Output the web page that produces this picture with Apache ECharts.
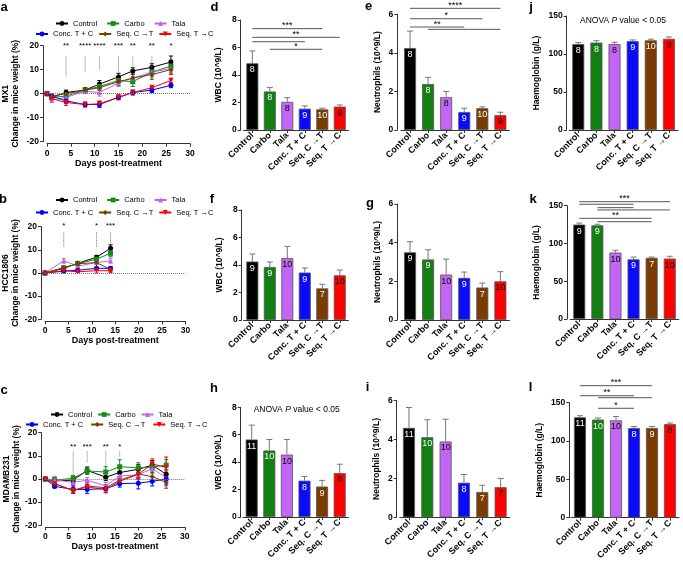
<!DOCTYPE html>
<html><head><meta charset="utf-8">
<script src="https://cdn.jsdelivr.net/npm/echarts@6/dist/echarts.min.js"></script>
<style>html,body{margin:0;padding:0;background:#fff}#c{width:683px;height:562px}</style>
</head><body><div id="c"></div><script>
const FONT = '"Liberation Sans", Arial, sans-serif';

// ---------------- data ----------------
const treatments = ['Control','Carbo','Tala','Conc. T + C','Seq. C \u2192T','Seq. T \u2192C'];

// Panel a: MX1 body weight change (%)
const mx1Days = [0,1,4,8,11,15,18,22,26];
const mx1Control = [0,-1.5,0.5,1.5,4,7,9.5,11,13.2];
const mx1Carbo   = [0,-1.5,-1,1.5,3,5.5,5,9,11.5];
const mx1Tala    = [0,-2.8,-1.5,1,0.5,4.5,6.5,9,10.5];
const mx1Conc    = [0,-1,-3,-4.5,-4.5,-1.5,0.5,1.5,3.5];
const mx1SeqCT   = [0,-1,0,1.5,2.5,5,6.5,8,10];
const mx1SeqTC   = [0,-2,-3.7,-4.5,-4.2,-1.5,0.5,2.5,5.5];
const mx1ControlErr = [0,0.8,1,1,1.5,1.5,1.3,1.5,2.5];
const mx1CarboErr   = [0,0.8,1,1,1.2,1.2,2,2,2.5];
const mx1TalaErr    = [0,0.8,1,1,1.5,1.5,1.5,1.5,2];
const mx1ConcErr    = [0,0.8,1,1,1.2,1,1,1,1];
const mx1SeqCTErr   = [0,0.8,1,1,1.2,1.5,1.5,2,2];
const mx1SeqTCErr   = [0,0.8,1.2,1,1.2,1,1,1,1];
const mx1SigDays  = [4,8,11,15,18,22,26];
const mx1SigStars = ['**','****','****','***','**','**','*'];
const mx1SigLineEnd = [7,9.2,9.7,9.2,9.7,10.8,14];

// Panel b: HCC1806
const hccDays = [0,4,7,11,14];
const hccControl = [0,2,4.2,6.8,10.7];
const hccCarbo   = [0,2.3,4,6,8.5];
const hccTala    = [0,5.3,3,4.5,5.3];
const hccConc    = [0,0.8,1.2,2,2];
const hccSeqCT   = [0,2.3,4,4.5,1.5];
const hccSeqTC   = [0,1,0.5,1,1];
const hccControlErr = [0,0.6,0.8,0.8,1.5];
const hccCarboErr   = [0,0.5,0.6,0.8,1.5];
const hccTalaErr    = [0,1,0.5,0.8,1];
const hccConcErr    = [0,0.4,0.5,0.5,0.8];
const hccSeqCTErr   = [0,0.5,0.8,2.5,0.8];
const hccSeqTCErr   = [0,0.5,0.4,1,0.8];
const hccSigDays  = [4,11,14];
const hccSigStars = ['*','*','***'];
const hccSigLineEnd = [11.2,11.2,12.5];

// Panel c: MDAMB231
const mdaDays = [0,2,6,9,13,16,20,23,26];
const mdaControl = [0,-0.8,-0.5,3.7,0.8,2.8,4.2,6,2];
const mdaCarbo   = [0,-0.5,0.3,3.5,3,5.3,4.8,5.2,6];
const mdaTala    = [0,-0.3,-1.5,-0.5,-3,1.3,1.8,4.5,0.5];
const mdaConc    = [0,-3.2,-4.5,-4.5,-4.2,-2,-1.8,-1,0];
const mdaSeqCT   = [0,-2,-5,-3,-3.8,-0.5,2.2,1,-1.5];
const mdaSeqTC   = [0,-2,-5,-3.5,-4.5,-1,2,6.5,5];
const mdaControlErr = [0,1.5,1.5,1.5,1.5,1.8,2,2,2];
const mdaCarboErr   = [0,1.2,1.2,1.5,2.3,3,2.2,2.5,2.5];
const mdaTalaErr    = [0,1.5,1.5,1.2,1.5,2,2,2.2,3.5];
const mdaConcErr    = [0,0.6,1.5,1.8,1.5,1.5,2.5,2,2.5];
const mdaSeqCTErr   = [0,1,1.2,1.5,1.2,1.5,2,2,2.5];
const mdaSeqTCErr   = [0,0.8,1.2,1.2,1.5,1.5,2,2.2,4.5];
const mdaSigDays  = [6,9,13,16];
const mdaSigStars = ['**','***','**','*'];
const mdaSigLineEnd = [1,7.2,1.5,9.4];

// Bar panels (mean, SEM, n)
const wbcMX1 = [4.85,2.8,2.05,1.55,1.5,1.7];
const wbcMX1Err = [0.9,0.3,0.3,0.2,0.08,0.12];
const wbcMX1N = [8,8,8,9,10,9];
const wbcMX1Sig = [[0,4,7.37,'***'],[0,5,6.74,'**'],[0,3,6.42,''],[1,4,5.87,'*']];

const neuMX1 = [4.25,2.38,1.7,0.93,1.13,0.77];
const neuMX1Err = [0.88,0.35,0.3,0.2,0.07,0.15];
const neuMX1N = [8,8,8,9,10,9];
const neuMX1Sig = [[0,5,6.31,'****'],[0,4,5.77,'*'],[0,3,5.34,'**'],[1,5,5.22,'']];

const hbMX1 = [113,115,113,117,118,120];
const hbMX1Err = [2,2.5,2.5,1.5,1.5,2.5];
const hbMX1N = [8,8,8,9,10,9];

const wbcHCC = [4.25,3.85,4.5,3.45,2.3,3.25];
const wbcHCCErr = [0.55,0.37,0.85,0.33,0.3,0.38];
const wbcHCCN = [9,9,10,9,7,10];

const neuHCC = [3.5,3.13,2.35,2.18,1.68,2.0];
const neuHCCErr = [0.55,0.5,0.8,0.3,0.23,0.5];
const neuHCCN = [9,9,10,9,7,10];

const hbHCC = [125,124,88,79,81,80];
const hbHCCErr = [2,1.5,3,3,1,3];
const hbHCCN = [9,9,10,9,7,10];
const hbHCCSig = [[0,5,155.3,'***'],[0,3,151.9,''],[1,3,147.4,''],[1,5,144.4,''],[0,4,133.3,'**'],[1,4,128.8,'']];

const wbcMDA = [5.65,4.85,4.55,2.65,2.22,3.2];
const wbcMDAErr = [1.05,0.8,1.1,0.3,0.45,0.65];
const wbcMDAN = [11,10,10,8,9,8];

const neuMDA = [4.6,4.12,3.9,1.78,1.3,1.55];
const neuMDAErr = [1.05,0.9,1.15,0.42,0.35,0.45];
const neuMDAN = [11,10,10,8,7,7];

const hbMDA = [131,128,127,117,117,122];
const hbMDAErr = [2,2,5,2,2,1.5];
const hbMDAN = [11,10,10,8,9,8];
const hbMDASig = [[0,4,172.2,'***'],[0,3,159.1,'**'],[1,4,156.5,''],[1,3,142.7,'*']];

// ---------------- styles ----------------
const lineColors = ['#000000','#178a17','#c062f2','#0000ff','#7b3b00','#ff0000'];
const barColors  = ['#000000','#137f13','#c466f5','#0a0aff','#7a3c00','#ff0000'];
const nColors    = ['#ffffff','#ffffff','#000000','#ffffff','#ffffff','#000000'];
const symbols    = ['circle','rect','triangle','circle','diamond','triangle'];
const symbolRot  = [0,0,0,0,0,180];
const AX = {color:'#333', width:1};

const grids = [], xAxes = [], yAxes = [], series = [], legends = [], graphics = [];

function addGrid(left, top, width, height) {
  grids.push({left, top, width, height, containLabel:false, outerBoundsMode:'none'});
  return grids.length - 1;
}
function yVal(gi, min, max, interval, name, nameGap, offset) {
  yAxes.push({type:'value', gridIndex:gi, min, max, interval, offset,
    name, nameLocation:'middle', nameGap, nameRotate:90, nameMoveOverlap:false,
    nameTextStyle:{fontFamily:FONT, fontWeight:'bold', fontSize:8.5, color:'#000', lineHeight:10},
    axisLine:{show:true, onZero:false, lineStyle:AX},
    axisTick:{show:true, length:3, lineStyle:AX},
    axisLabel:{fontFamily:FONT, fontWeight:'bold', fontSize:8.5, color:'#000', margin:4},
    splitLine:{show:false}});
}
function xDays(gi) {
  xAxes.push({type:'value', gridIndex:gi, min:0, max:30, interval:5, offset:2,
    name:'Days post-treatment', nameLocation:'middle', nameGap:15, nameMoveOverlap:false,
    nameTextStyle:{fontFamily:FONT, fontWeight:'bold', fontSize:9, color:'#000'},
    axisLine:{show:true, onZero:false, lineStyle:AX},
    axisTick:{show:true, length:3, lineStyle:AX},
    axisLabel:{fontFamily:FONT, fontWeight:'bold', fontSize:8.5, color:'#000', margin:5},
    splitLine:{show:false}});
}
function xCat(gi) {
  xAxes.push({type:'category', gridIndex:gi, data:treatments,
    axisLine:{show:true, onZero:false, lineStyle:AX},
    axisTick:{show:true, length:3, alignWithLabel:true, lineStyle:AX},
    axisLabel:{fontFamily:FONT, fontWeight:'bold', fontSize:9, color:'#000', rotate:45, interval:0, margin:4},
    splitLine:{show:false}});
}

function errRender(color, cap) {
  return function(params, api) {
    const x = api.value(0), m = api.value(1), e = api.value(2);
    if (!e) return null;
    const lo = api.coord([x, m - e]), hi = api.coord([x, m + e]);
    return {type:'group', children:[
      {type:'line', shape:{x1:lo[0], y1:lo[1], x2:hi[0], y2:hi[1]}, style:{stroke:color, lineWidth:1}},
      {type:'line', shape:{x1:hi[0]-cap, y1:hi[1], x2:hi[0]+cap, y2:hi[1]}, style:{stroke:color, lineWidth:1}},
      {type:'line', shape:{x1:lo[0]-cap, y1:lo[1], x2:lo[0]+cap, y2:lo[1]}, style:{stroke:color, lineWidth:1}}
    ]};
  };
}

function linePanel(gi, tag, days, means, errs, sigDays, sigStars, sigEnd, starY, lineTop) {
  means.forEach((m, k) => {
    const s = {type:'line', name:treatments[k], xAxisIndex:gi, yAxisIndex:gi,
      data: days.map((d, i) => [d, m[i]]), symbol:symbols[k], symbolRotate:symbolRot[k], symbolSize:5,
      showSymbol:true, itemStyle:{color:lineColors[k]}, lineStyle:{color:lineColors[k], width:1}, z:4};
    if (k === 0) s.markLine = {silent:true, symbol:'none', label:{show:false}, animation:false,
      lineStyle:{type:'dotted', color:'#777', width:1}, data:[{yAxis:0}]};
    series.push(s);
    series.push({type:'custom', name:tag + ' err ' + k, xAxisIndex:gi, yAxisIndex:gi, silent:true, z:3,
      data: days.map((d, i) => [d, m[i], errs[k][i]]), encode:{x:0, y:1},
      renderItem: errRender(lineColors[k], 2)});
  });
  series.push({type:'custom', name:tag + ' sig', xAxisIndex:gi, yAxisIndex:gi, silent:true, z:5,
    data: sigDays.map((d, i) => [d, sigEnd[i]]), encode:{x:0, y:1},
    renderItem: function(params, api) {
      const d = api.value(0), end = api.value(1);
      const t = api.coord([d, starY]), a = api.coord([d, lineTop]), b = api.coord([d, end]);
      return {type:'group', children:[
        {type:'line', shape:{x1:a[0], y1:a[1], x2:b[0], y2:b[1]}, style:{stroke:'#777', lineWidth:1, lineDash:[1,1]}},
        {type:'text', x:t[0], y:t[1], style:{text:sigStars[params.dataIndex], font:'8px ' + FONT, fill:'#000', align:'center', verticalAlign:'middle'}}
      ]};
    }});
}

function barPanel(gi, tag, means, errs, ns, sig) {
  series.push({type:'bar', name:tag, xAxisIndex:gi, yAxisIndex:gi, barWidth:12, z:2,
    data: means.map((v, i) => ({value:v, itemStyle:{color:barColors[i], borderColor:'#555', borderWidth:0.8},
      label:{show:true, position:'insideTop', distance:2, color:nColors[i], fontFamily:FONT, fontSize:9,
        formatter:String(ns[i])}}))});
  series.push({type:'custom', name:tag + ' err', xAxisIndex:gi, yAxisIndex:gi, silent:true, z:3,
    data: means.map((v, i) => [i, v, errs[i]]), encode:{x:0, y:1},
    renderItem: function(params, api) {
      const x = api.value(0), m = api.value(1), e = api.value(2);
      const lo = api.coord([x, m]), hi = api.coord([x, m + e]);
      return {type:'group', children:[
        {type:'line', shape:{x1:lo[0], y1:lo[1], x2:hi[0], y2:hi[1]}, style:{stroke:'#777', lineWidth:1}},
        {type:'line', shape:{x1:hi[0]-3, y1:hi[1], x2:hi[0]+3, y2:hi[1]}, style:{stroke:'#777', lineWidth:1}}
      ]};
    }});
  if (sig) series.push({type:'custom', name:tag + ' sig', xAxisIndex:gi, yAxisIndex:gi, silent:true, z:5,
    data: sig.map(s => [s[0], s[1], s[2]]), encode:{x:0, y:2},
    renderItem: function(params, api) {
      const a = api.coord([api.value(0), api.value(2)]), b = api.coord([api.value(1), api.value(2)]);
      const lab = sig[params.dataIndex][3];
      const ch = [{type:'line', shape:{x1:a[0], y1:a[1], x2:b[0], y2:b[1]}, style:{stroke:'#555', lineWidth:1}}];
      if (lab) ch.push({type:'text', x:(a[0]+b[0])/2, y:a[1] + 1.5, style:{text:lab, font:'9px ' + FONT, fill:'#000', align:'center', verticalAlign:'bottom'}});
      return {type:'group', children:ch};
    }});
}

// ---------------- layout ----------------
let g;
g = addGrid(47, 45.7, 143, 96); xDays(g); yVal(g, -20, 20, 10, 'MX1\nChange in mice weight (%)', 22, 4);
linePanel(g, 'a', mx1Days, [mx1Control,mx1Carbo,mx1Tala,mx1Conc,mx1SeqCT,mx1SeqTC],
  [mx1ControlErr,mx1CarboErr,mx1TalaErr,mx1ConcErr,mx1SeqCTErr,mx1SeqTCErr], mx1SigDays, mx1SigStars, mx1SigLineEnd, 20, 15.5);
g = addGrid(45, 226.7, 140.5, 92.6); xDays(g); yVal(g, -20, 20, 10, 'HCC1806\nChange in mice weight (%)', 20, 4);
linePanel(g, 'b', hccDays, [hccControl,hccCarbo,hccTala,hccConc,hccSeqCT,hccSeqTC],
  [hccControlErr,hccCarboErr,hccTalaErr,hccConcErr,hccSeqCTErr,hccSeqTCErr], hccSigDays, hccSigStars, hccSigLineEnd, 20.2, 17.6);
g = addGrid(45.3, 432.7, 139.5, 92.6); xDays(g); yVal(g, -20, 20, 10, 'MDAMB231\nChange in mice weight (%)', 20, 4);
linePanel(g, 'c', mdaDays, [mdaControl,mdaCarbo,mdaTala,mdaConc,mdaSeqCT,mdaSeqTC],
  [mdaControlErr,mdaCarboErr,mdaTalaErr,mdaConcErr,mdaSeqCTErr,mdaSeqTCErr], mdaSigDays, mdaSigStars, mdaSigLineEnd, 13.8, 11.9);

const wbcName = 'WBC (10^9/L)', neuName = 'Neutrophils (10^9/L)', hbName = 'Haemoglobin (g/L)';
g = addGrid(243.6, 20, 104.9, 110); xCat(g); yVal(g, 0, 8, 2, wbcName, 17, 2.9); barPanel(g, 'd', wbcMX1, wbcMX1Err, wbcMX1N, wbcMX1Sig);
g = addGrid(401, 14.3, 108.4, 115.7); xCat(g); yVal(g, 0, 6, 2, neuName, 15, 3.7); barPanel(g, 'e', neuMX1, neuMX1Err, neuMX1N, neuMX1Sig);
g = addGrid(569.2, 16, 108.8, 114); xCat(g); yVal(g, 0, 150, 50, hbName, 25, 2.5); barPanel(g, 'j', hbMX1, hbMX1Err, hbMX1N, null);
g = addGrid(243.6, 210, 104.9, 110); xCat(g); yVal(g, 0, 8, 2, wbcName, 17, 1.9); barPanel(g, 'f', wbcHCC, wbcHCCErr, wbcHCCN, null);
g = addGrid(401, 204, 108.4, 116); xCat(g); yVal(g, 0, 6, 2, neuName, 15, 3.7); barPanel(g, 'g', neuHCC, neuHCCErr, neuHCCN, null);
g = addGrid(570.2, 205.7, 108.6, 113.3); xCat(g); yVal(g, 0, 150, 50, hbName, 25, 3.2); barPanel(g, 'k', hbHCC, hbHCCErr, hbHCCN, hbHCCSig);
g = addGrid(242.9, 407.3, 105.6, 109.7); xCat(g); yVal(g, 0, 8, 2, wbcName, 17, 2.2); barPanel(g, 'h', wbcMDA, wbcMDAErr, wbcMDAN, null);
g = addGrid(399.8, 400.7, 110, 116.6); xCat(g); yVal(g, 0, 6, 2, neuName, 15, 3.1); barPanel(g, 'i', neuMDA, neuMDAErr, neuMDAN, null);
g = addGrid(571, 402.7, 108, 115); xCat(g); yVal(g, 0, 150, 50, hbName, 25, 1.7); barPanel(g, 'l', hbMDA, hbMDAErr, hbMDAN, hbMDASig);

function legendRow(names, left, top, gap) {
  legends.push({data:names, left, top, orient:'horizontal', itemWidth:12, itemHeight:6, itemGap:gap, padding:0,
    selectedMode:false, textStyle:{fontFamily:FONT, fontSize:7.5, color:'#000'}});
}
const row1 = treatments.slice(0,3), row2 = treatments.slice(3);
legendRow(row1, 55, 19.5, 9); legendRow(row2, 35, 30, 5);
legendRow(row1, 55, 196, 9); legendRow(row2, 35, 208.5, 5);
legendRow(row1, 50, 410.5, 5); legendRow(row2, 25, 420.5, 7);

[['a',4,7.5],['b',3,199],['c',4,390],['d',214.5,7],['e',368.5,6.5],['j',531,7],
 ['f',212,199],['g',370,203],['k',533,199],['h',214,388],['i',367.5,387],['l',530.5,387]].forEach(p => {
  graphics.push({type:'text', x:p[1], y:p[2], style:{text:p[0], font:'bold 13px ' + FONT, fill:'#000', align:'center', verticalAlign:'middle'}});
});
function anova(x, y) {
  graphics.push({type:'text', x, y, style:{text:'{n|ANOVA }{p|P}{n| value < 0.05}', align:'center', verticalAlign:'middle',
    rich:{n:{fontSize:8.5, fontFamily:FONT, fill:'#000'}, p:{fontSize:8.5, fontFamily:FONT, fontStyle:'italic', fill:'#000'}}}});
}
anova(623, 20.7); anova(296.7, 409.3);

const chart = echarts.init(document.getElementById('c'), null, {renderer:'canvas', width:683, height:562});
chart.setOption({backgroundColor:'#fff', animation:false, textStyle:{fontFamily:FONT},
  grid:grids, xAxis:xAxes, yAxis:yAxes, legend:legends, series, graphic:graphics});
</script></body></html>
